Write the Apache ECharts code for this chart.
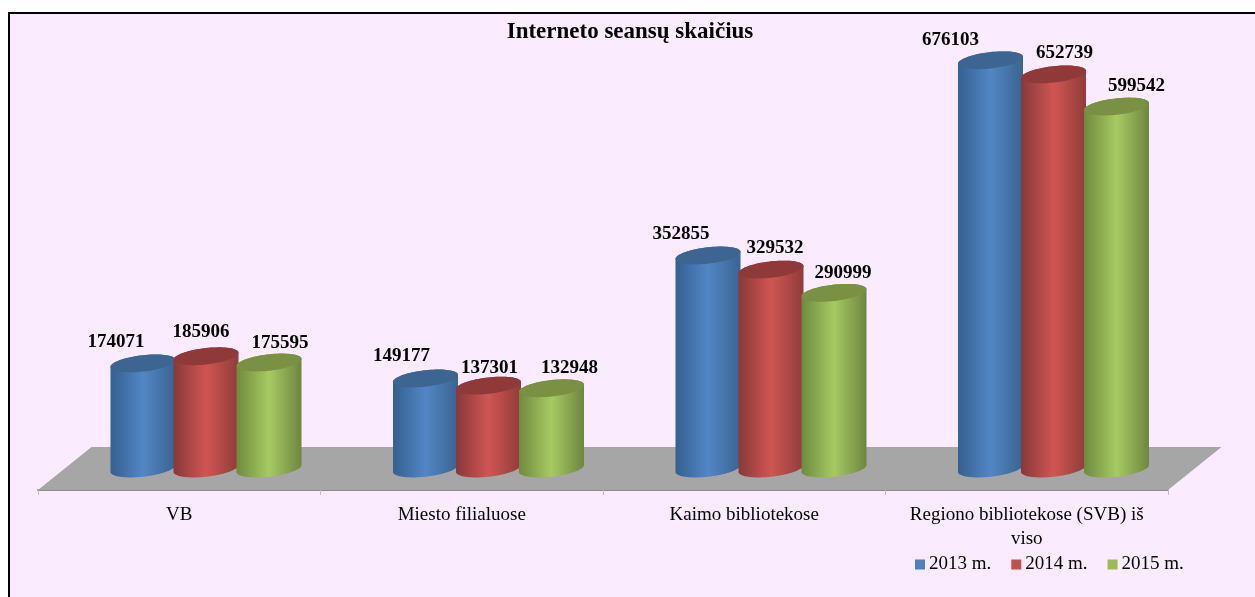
<!DOCTYPE html>
<html lang="lt">
<head>
    <meta charset="UTF-8">
    <title>Interneto seansų skaičius</title>
    <style>
        * {
            margin: 0px;
            padding: 0px;
        }

        body {
            background-color: #ffffff;
            overflow: hidden;
        }

        .frame {
            position: absolute;
            left: 8px;
            top: 12px;
            width: 1247px;
            height: 585px;
            box-sizing: border-box;
            background-color: #faebfe;
            border-left: 2px solid #000000;
            border-top: 2px solid #000000;
        }

        #main {
            position: absolute;
            left: 0px;
            top: 0px;
            width: 1255px;
            height: 597px;
        }
    </style>
</head>
<body>
<div class="frame"></div>
<div id="main"></div>

<script src="https://cdn.jsdelivr.net/npm/echarts@6/dist/echarts.min.js"></script>
<script type="text/javascript">
    var categories = ['VB', 'Miesto filialuose', 'Kaimo bibliotekose', 'Regiono bibliotekose (SVB) iš\nviso'];
    var seriesNames = ['2013 m.', '2014 m.', '2015 m.'];
    var values2013 = [174071, 149177, 352855, 676103];
    var values2014 = [185906, 137301, 329532, 652739];
    var values2015 = [175595, 132948, 290999, 599542];

    var serif = '"Liberation Serif", "Times New Roman", serif';

    // cylinder sits half way back on the floor
    var floorDepthX = 53.5;
    var floorDepthY = 43;
    var barStep = 63;
    var barRadius = 32.5;
    var capB = 8.2;
    var capShear = 3.5;

    // hand placed labels in the original, offset from the centre of each cap
    var labelShift = [
        [[-27, -21], [-24, -22], [-27, -21], [-40, -20]],
        [[-5, -24], [1, -18], [4, -21], [11, -21]],
        [[11, -19], [18, -20], [9, -20], [20, -20]]
    ];

    var looks = [
        {main: '#4f81bd', glow: '#5286c5', edgeL: '#35608f', edgeR: '#3a6491', cap: '#3c6591'},
        {main: '#c0504d', glow: '#cf5653', edgeL: '#87393a', edgeR: '#8f3c3a', cap: '#8f3a38'},
        {main: '#9bbb59', glow: '#a7ca62', edgeL: '#6f8a3f', edgeR: '#6d8640', cap: '#7a9043'}
    ];

    function capPoint(cx, cy, t) {
        return [cx + barRadius * Math.cos(t), cy + capB * Math.sin(t) - capShear * Math.cos(t)];
    }

    function makeCylinder(seriesIndex) {
        return function (params, api) {
            var cat = api.value(0);
            var val = api.value(1);
            var top = api.coord([cat, val]);
            var base = api.coord([cat, 0]);
            var cx = top[0] + floorDepthX / 2 + (seriesIndex - 1) * barStep;
            var topY = top[1] - floorDepthY / 2;
            var baseY = base[1] - floorDepthY / 2;
            var look = looks[seriesIndex];

            var body = [];
            var cap = [];
            var i;
            // bottom half of the ellipse, right to left
            for (i = 0; i <= 40; i++) {
                body.push(capPoint(cx, baseY, Math.PI * i / 40));
            }
            // back up the left side and over the top, left to right
            for (i = 0; i <= 40; i++) {
                body.push(capPoint(cx, topY, Math.PI + Math.PI * i / 40));
            }
            for (i = 0; i < 80; i++) {
                cap.push(capPoint(cx, topY, Math.PI * 2 * i / 80));
            }

            var shift = labelShift[seriesIndex][params.dataIndex];
            return {
                type: 'group',
                children: [
                    {
                        type: 'polygon',
                        shape: {points: body},
                        style: {
                            fill: new echarts.graphic.LinearGradient(0, 0, 1, 0, [
                                {offset: 0, color: look.edgeL},
                                {offset: 0.5, color: look.glow},
                                {offset: 1, color: look.edgeR}
                            ])
                        }
                    },
                    {
                        type: 'polygon',
                        shape: {points: cap},
                        style: {fill: look.cap}
                    },
                    {
                        type: 'text',
                        x: cx + shift[0],
                        y: topY + shift[1],
                        style: {
                            text: String(val),
                            fill: '#000000',
                            font: 'bold 19px ' + serif,
                            align: 'center',
                            verticalAlign: 'middle'
                        }
                    }
                ]
            };
        };
    }

    function renderFloor(params, api) {
        var box = params.coordSys;
        var left = box.x;
        var right = box.x + box.width;
        var front = box.y + box.height;
        return {
            type: 'polygon',
            shape: {
                points: [
                    [left, front],
                    [right, front],
                    [right + floorDepthX, front - floorDepthY],
                    [left + floorDepthX, front - floorDepthY]
                ]
            },
            style: {fill: '#a6a6a6'}
        };
    }

    function cylinderSeries(name, values, seriesIndex) {
        return {
            name: name,
            type: 'custom',
            renderItem: makeCylinder(seriesIndex),
            encode: {x: 0, y: 1},
            clip: false,
            itemStyle: {color: looks[seriesIndex].main},
            data: values.map(function (v, i) {
                return [i, v];
            }),
            z: 3
        };
    }

    var myChart = echarts.init(document.getElementById('main'));
    myChart.setOption({
        animation: false,
        backgroundColor: 'transparent',
        title: {
            text: 'Interneto seansų skaičius',
            left: 625,
            top: 16,
            textAlign: 'center',
            textStyle: {
                fontFamily: serif,
                fontWeight: 'bold',
                fontSize: 23,
                color: '#000000'
            }
        },
        legend: {
            left: 915,
            top: 555,
            padding: 0,
            icon: 'rect',
            itemWidth: 10,
            itemHeight: 10,
            itemGap: 20,
            data: seriesNames,
            textStyle: {
                fontFamily: serif,
                fontSize: 19,
                color: '#000000',
                padding: [0, 0, 0, -1]
            }
        },
        grid: {
            left: 38,
            top: 7,
            width: 1130,
            height: 483
        },
        xAxis: {
            type: 'category',
            data: categories,
            axisLine: {lineStyle: {color: '#8c8c8c', width: 2}},
            axisTick: {show: true, alignWithLabel: false, length: 5, lineStyle: {color: '#bfbfbf'}},
            axisLabel: {
                fontFamily: serif,
                fontSize: 19,
                color: '#000000',
                lineHeight: 24,
                margin: 13,
                interval: 0
            }
        },
        yAxis: {
            type: 'value',
            min: 0,
            max: 800000,
            show: false,
            splitLine: {show: false}
        },
        series: [
            {
                type: 'custom',
                renderItem: renderFloor,
                data: [[0, 0]],
                encode: {x: 0, y: 1},
                silent: true,
                clip: false,
                z: 1
            },
            cylinderSeries(seriesNames[0], values2013, 0),
            cylinderSeries(seriesNames[1], values2014, 1),
            cylinderSeries(seriesNames[2], values2015, 2)
        ]
    });
</script>
</body>
</html>
